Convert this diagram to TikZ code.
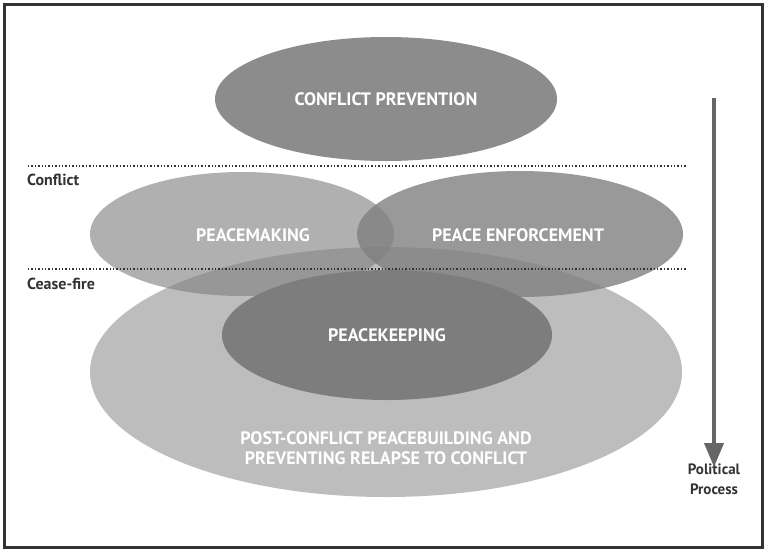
\documentclass[tikz,border=0pt]{standalone}
\usepackage{fontspec}
\setmainfont{PT Sans}
\usetikzlibrary{shapes.geometric,arrows.meta}
\definecolor{framegray}{gray}{0.2}
\definecolor{zonegray}{gray}{0.5}
\definecolor{flowgray}{gray}{0.4}
\definecolor{preventgray}{gray}{0.55}
\definecolor{keepgray}{gray}{0.49}
\tikzset{
  phase/.style={ellipse,inner sep=0pt,fill=zonegray,draw=none,text=white,text opacity=1,
    font=\bfseries\fontsize{18}{20}\selectfont},
  stage/.style={anchor=west,inner sep=0pt,text=framegray,font=\bfseries\fontsize{16}{18}\selectfont},
  cut/.style={line width=2pt,dash pattern=on 1.4pt off 2pt,color=framegray}
}
\begin{document}
\begin{tikzpicture}[x=1pt,y=-1pt]
  \useasboundingbox (0,0) rectangle (767,552);
  \draw[line width=2.5pt,framegray] (4.5,4.5) rectangle (762.5,547.5);
  % ellipses
  \node[phase,fill opacity=0.52,minimum width=592pt,minimum height=250pt] (build) at (386,372) {};
  \node[phase,fill opacity=0.62,minimum width=304pt,minimum height=124pt] (making) at (242,234) {};
  \node[phase,fill opacity=0.8,minimum width=326pt,minimum height=126pt] (enforce) at (520,234) {};
  \node[phase,fill=keepgray,minimum width=330pt,minimum height=130pt] (keeping) at (387,335) {PEACEKEEPING};
  \node[phase,fill=preventgray,minimum width=342pt,minimum height=124pt] (prevent) at (386,99) {CONFLICT PREVENTION};
  \node[phase,fill=none] (makinglbl) at (253,235) {PEACEMAKING};
  \node[phase,fill=none] (enforcelbl) at (518,235) {PEACE ENFORCEMENT};
  \node[phase,fill=none,align=center] (buildlbl) at (386,448) {POST-CONFLICT PEACEBUILDING AND\\PREVENTING RELAPSE TO CONFLICT};
  % phase lines
  \coordinate (conflictL) at (28,166);
  \coordinate (conflictR) at (686,166);
  \coordinate (ceaseL) at (28,269);
  \coordinate (ceaseR) at (686,269);
  \draw[cut] (conflictL) -- (conflictR);
  \draw[cut] (ceaseL) -- (ceaseR);
  \node[stage] (conflict) at (27,180) {Conflict};
  \node[stage] (cease) at (27,284) {Cease-fire};
  % political process
  \node[stage,anchor=north,align=center,font=\bfseries\fontsize{15}{20}\selectfont] (politics) at (714,464) {Political\\Process};
  \coordinate (flowtop) at (714,98);
  \draw[line width=4pt,flowgray,-{Triangle[width=19pt,length=24pt]}] (flowtop) -- ([yshift=-3pt]politics.north);
\end{tikzpicture}
\end{document}
